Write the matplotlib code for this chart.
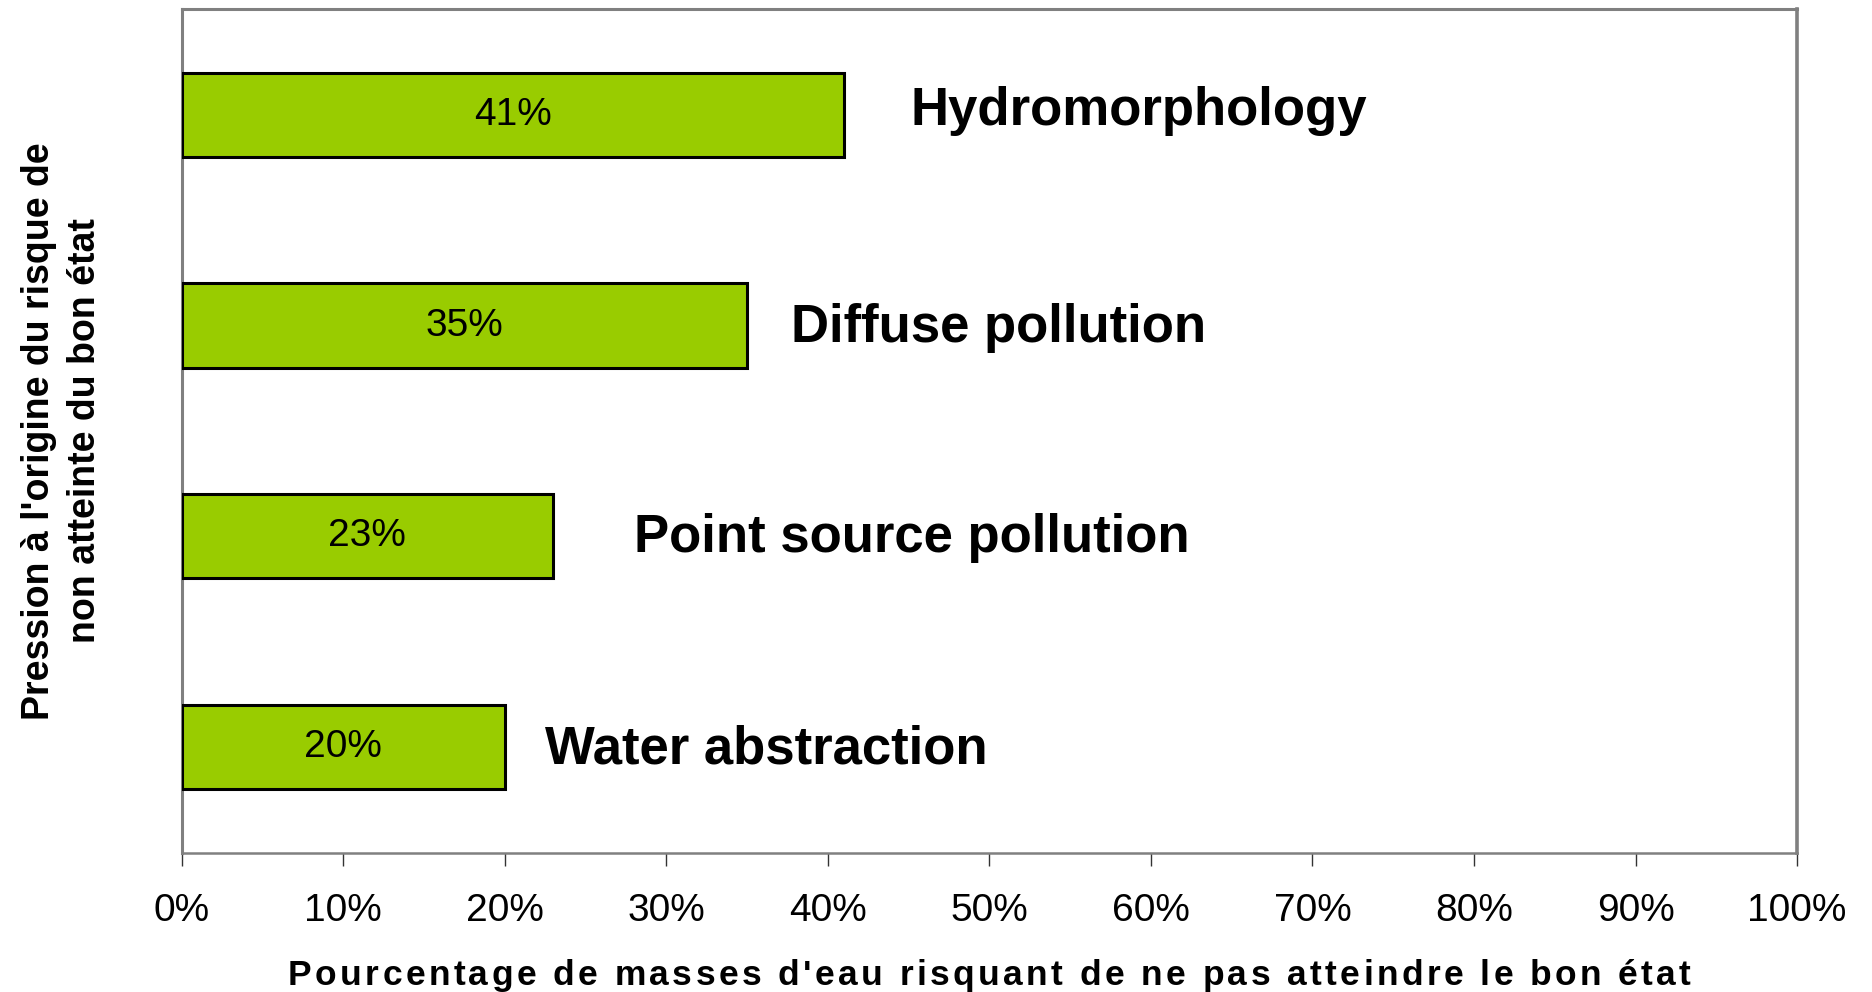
import matplotlib
matplotlib.use("Agg")
import matplotlib.pyplot as plt

# data (top to bottom)
categories = ["Hydromorphology", "Diffuse pollution", "Point source pollution", "Water abstraction"]
values = [41, 35, 23, 20]
xticks = [0, 10, 20, 30, 40, 50, 60, 70, 80, 90, 100]
xticklabels = [f"{t}%" for t in xticks]
xlabel = "Pourcentage de masses d'eau risquant de ne pas atteindre le bon état"
ylabel = "Pression à l'origine du risque de\nnon atteinte du bon état"

# where the category names start, in % along the x axis
label_x = [45.1, 37.7, 28.0, 22.5]

plt.rcParams['font.family'] = ['Liberation Sans', 'DejaVu Sans']

W, H = 1872, 992
fig = plt.figure(figsize=(W / 100, H / 100), dpi=100)
ax = fig.add_axes([0.097, 0.1406, 0.863, 0.850])

ypos = list(range(len(categories)))
ax.barh(ypos, values, height=0.4, color="#99CC00", edgecolor="black", linewidth=2.2, zorder=3)

for y, v, lx, name in zip(ypos, values, label_x, categories):
    ax.text(v / 2, y, f"{v}%", ha="center", va="center", fontsize=28, zorder=4)
    ax.text(lx, y - 0.02 if y == 0 else y + 0.01, name, ha="left", va="center",
            fontsize=38, fontweight="bold")

ax.set_xlim(0, 100)
ax.set_ylim(len(categories) - 0.5, -0.5)
ax.set_xticks(xticks)
ax.set_xticklabels(xticklabels, fontsize=28)
ax.set_yticks([])
ax.tick_params(axis="x", direction="out", length=9, width=1, color="#333333", pad=20)

for side in ["top", "right", "left", "bottom"]:
    ax.spines[side].set_color("#808080")
ax.spines["top"].set_linewidth(2.2)
ax.spines["right"].set_linewidth(2.6)
ax.spines["left"].set_linewidth(2.2)
ax.spines["bottom"].set_linewidth(1.8)

fig.text(0.033, 0.5655, ylabel,
         rotation=90, ha="center", va="center", fontsize=27, fontweight="bold",
         linespacing=1.35, multialignment="center")

# x label drawn with extra letter spacing, like the original
renderer = fig.canvas.get_renderer()
fs = 25.5


def text_w(s):
    t = fig.text(0, 0, s, fontsize=fs, fontweight="bold")
    w = t.get_window_extent(renderer).width
    t.remove()
    return w


bar_w = text_w("|")
pos = [text_w(xlabel[:i] + "|") - bar_w if i else 0 for i in range(len(xlabel))]
natural = text_w(xlabel)
target = 1403
extra = (target - natural) / (len(xlabel) - 1)
x0 = 0.5 * (0.097 + 0.960) * W - target / 2
ybase = H - 985
for i, ch in enumerate(xlabel):
    if ch == " ":
        continue
    fig.text((x0 + pos[i] + i * extra) / W, ybase / H, ch, fontsize=fs,
             fontweight="bold", ha="left", va="baseline")

fig.savefig("out.png", dpi=100)
